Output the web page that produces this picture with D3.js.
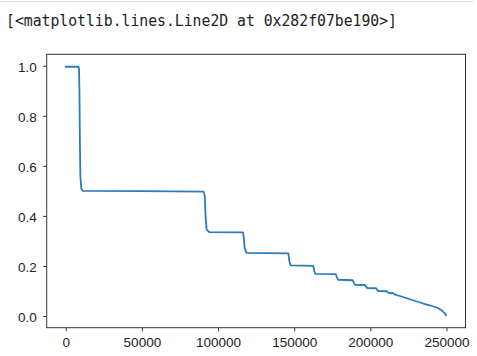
<!DOCTYPE html>
<html>
<head>
<meta charset="utf-8">
<script src="https://cdn.jsdelivr.net/npm/d3@7"></script>
<style>
  html, body { margin: 0; padding: 0; background: #fff; }
  svg { display: block; }
</style>
</head>
<body>
<script>
// ---- data ----
const headerText = "[<matplotlib.lines.Line2D at 0x282f07be190>]";
const xValues = [0, 8300, 8700, 9000, 9300, 9600, 10200, 11100, 50000, 90500, 91300, 91800, 92500, 94300,
  116400, 117000, 117500, 118800, 146200, 146800, 147700, 162600, 163200, 163900, 177400, 178000, 178800,
  188400, 189200, 190000, 196500, 197300, 198000, 203800, 204600, 205300, 210800, 211600, 212300,
  215100, 215900, 216600, 220000, 223900, 229000, 234800, 239500, 243600, 246900, 249000, 249700];
const yValues = [0.996, 0.996, 0.99, 0.90, 0.70, 0.56, 0.51, 0.500, 0.499, 0.497, 0.48, 0.40, 0.345, 0.335,
  0.334, 0.31, 0.27, 0.252, 0.250, 0.22, 0.202, 0.200, 0.18, 0.168, 0.167, 0.155, 0.145,
  0.143, 0.132, 0.125, 0.124, 0.116, 0.112, 0.111, 0.104, 0.100, 0.099, 0.094, 0.092,
  0.091, 0.087, 0.084, 0.079, 0.071, 0.061, 0.050, 0.042, 0.034, 0.023, 0.010, 0.003];
const xTicks = [0, 50000, 100000, 150000, 200000, 250000];
const yTicks = [0.0, 0.2, 0.4, 0.6, 0.8, 1.0];

const W = 477, H = 356;
const frame = { left: 46.7, top: 54.3, right: 465.5, bottom: 327.7 };

const svg = d3.select("body").append("svg").attr("width", W).attr("height", H);

// notebook output header
svg.append("line").attr("x1", 0).attr("x2", 473).attr("y1", 1.5).attr("y2", 1.5)
  .attr("stroke", "#d9d9d9").attr("stroke-width", 1);
svg.append("text").attr("x", 6).attr("y", 26)
  .attr("font-family", "'DejaVu Sans Mono', 'Liberation Mono', monospace")
  .attr("font-size", 15).attr("fill", "#222")
  .attr("textLength", 391).attr("lengthAdjust", "spacingAndGlyphs")
  .text(headerText);

// scales with matplotlib-like 5% margins
const data = xValues.map((x, i) => ({ x, y: yValues[i] }));
const [xmin, xmax] = d3.extent(xValues);
const [ymin, ymax] = d3.extent(yValues);
const ym = (ymax - ymin) * 0.05;
const x = d3.scaleLinear().domain([xmin - 12500, 262500]).range([frame.left, frame.right]);
const y = d3.scaleLinear().domain([ymin - ym, ymax + ym]).range([frame.bottom, frame.top]);

const font = "'Liberation Sans', Arial, sans-serif";

// axes
const xAxis = d3.axisBottom(x).tickValues(xTicks).tickFormat(d3.format("d")).tickSizeOuter(0).tickSize(3.5).tickPadding(4);
const yAxis = d3.axisLeft(y).tickValues(yTicks).tickFormat(d3.format(".1f")).tickSizeOuter(0).tickSize(3.5).tickPadding(6.5);

const gx = svg.append("g").attr("transform", `translate(0,${frame.bottom})`).call(xAxis);
const gy = svg.append("g").attr("transform", `translate(${frame.left},0)`).call(yAxis);
[gx, gy].forEach(g => {
  g.select(".domain").remove();
  g.selectAll(".tick line").attr("stroke", "#333").attr("stroke-width", 1);
  g.selectAll(".tick text").attr("font-family", font).attr("font-size", 13.5).attr("fill", "#222");
});
gx.selectAll(".tick text").attr("dy", "0.85em");
gy.selectAll(".tick text").attr("dy", "0.4em");

// line
svg.append("path").datum(data)
  .attr("fill", "none").attr("stroke", "#2c7bbd").attr("stroke-width", 1.8)
  .attr("stroke-linejoin", "round").attr("stroke-linecap", "square")
  .attr("d", d3.line().x(d => x(d.x)).y(d => y(d.y)));

// frame
svg.append("rect").attr("x", frame.left).attr("y", frame.top)
  .attr("width", frame.right - frame.left).attr("height", frame.bottom - frame.top)
  .attr("fill", "none").attr("stroke", "#333").attr("stroke-width", 1);
</script>
</body>
</html>
